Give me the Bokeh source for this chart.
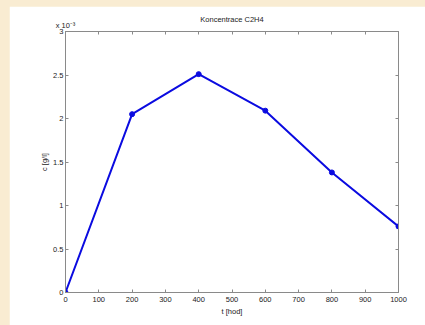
from bokeh.plotting import figure
from bokeh.layouts import column
from bokeh.models import LinearAxis, Range1d, FixedTicker
from bokeh.embed import file_html
from bokeh.resources import INLINE

# data (c in units of 1e-3 g/l)
t_hod = [0, 200, 400, 600, 800, 1000]
c_e3 = [0.0, 2.05, 2.51, 2.09, 1.38, 0.76]
x_ticks = [0, 100, 200, 300, 400, 500, 600, 700, 800, 900, 1000]
y_ticks = [0, 0.5, 1, 1.5, 2, 2.5, 3]
y_tick_labels = ["0", "0.5", "1", "1.5", "2", "2.5", "3"]
y_exponent = "x 10\u207b\u00b3"

FONT = "Liberation Sans"
AXC = "#8a8a8a"
TXT = "#222222"
FS = "7.5px"
BLUE = "#0b0be0"
BEIGE = "#f9ecd2"

p = figure(width=416, height=319, output_backend="svg", toolbar_location=None,
           x_range=Range1d(0, 1000), y_range=Range1d(0, 3),
           min_border_left=56, min_border_right=27, min_border_top=25, min_border_bottom=33,
           title="Koncentrace C2H4", x_axis_label="t [hod]", y_axis_label="c [g/l]")

p.background_fill_color = "white"
p.border_fill_color = "white"
p.outline_line_color = AXC
p.grid.visible = False

p.title.text_font = FONT
p.title.text_font_size = FS
p.title.text_font_style = "normal"
p.title.text_color = TXT
p.title.align = "center"
p.title.vertical_align = "bottom"
p.title.standoff = -13

def style_axis(ax, labels=True):
    ax.axis_line_color = AXC
    ax.major_tick_line_color = AXC
    ax.minor_tick_line_color = None
    ax.major_tick_in = 3
    ax.major_tick_out = 0
    ax.major_label_text_font = FONT
    ax.major_label_text_font_size = FS if labels else "1px"
    ax.major_label_text_color = TXT if labels else None
    ax.axis_label_text_font = FONT
    ax.axis_label_text_font_size = FS
    ax.axis_label_text_font_style = "normal"
    ax.axis_label_text_color = TXT

xa = p.xaxis[0]
xa.ticker = FixedTicker(ticks=x_ticks)
style_axis(xa)
xa.major_label_standoff = 4
xa.axis_label_standoff = 2

ya = p.yaxis[0]
ya.ticker = FixedTicker(ticks=y_ticks)
ya.major_label_overrides = {v: s for v, s in zip(y_ticks, y_tick_labels)}
style_axis(ya)
ya.major_label_standoff = 2
ya.axis_label_standoff = 1

top = LinearAxis(ticker=FixedTicker(ticks=x_ticks), axis_label=y_exponent)
style_axis(top, labels=False)
top.major_label_standoff = 0
top.axis_label_standoff = 2
top.axis_label_align = "start"
p.add_layout(top, "above")

right = LinearAxis(ticker=FixedTicker(ticks=y_ticks))
style_axis(right, labels=False)
right.major_label_standoff = 0
p.add_layout(right, "right")

p.line(t_hod, c_e3, line_color=BLUE, line_width=2)
p.scatter(t_hod, c_e3, size=5, fill_color=BLUE, line_color=BLUE)

page = column(p, styles={"background-color": BEIGE, "padding": "6px 0px 0px 9px"})

open("out.html", "w").write(file_html(page, INLINE))
